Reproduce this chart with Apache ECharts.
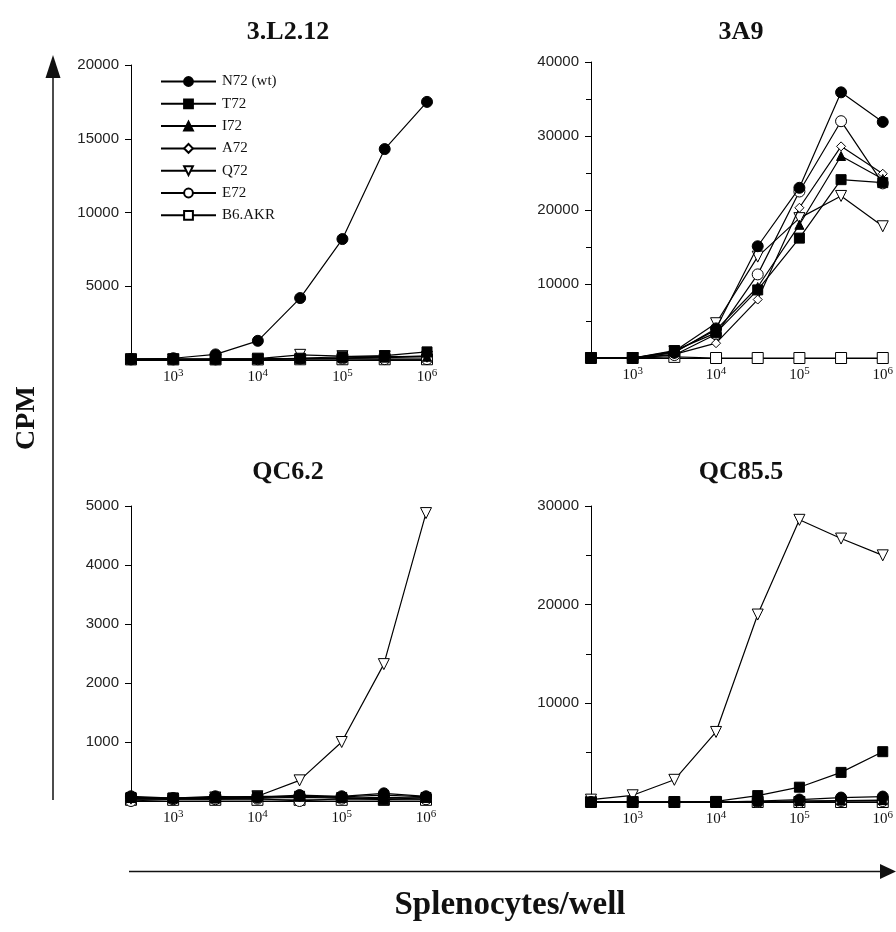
<!DOCTYPE html>
<html>
<head>
<meta charset="utf-8">
<script src="https://cdn.jsdelivr.net/npm/echarts@6/dist/echarts.min.js"></script>
<style>html,body{margin:0;padding:0;background:#fff;}#c{width:896px;height:932px;}</style>
</head>
<body>
<div id="c"></div>
<script>
// Splenocytes per well (x values, plotted on log10 scale)
const cellsPerWell = [316, 1000, 3162, 10000, 31623, 100000, 316228, 1000000];
const xTickExponents = [3, 4, 5, 6];
const seriesNames = ['N72 (wt)', 'T72', 'I72', 'A72', 'Q72', 'E72', 'B6.AKR'];
const panelTitles = ['3.L2.12', '3A9', 'QC6.2', 'QC85.5'];

// Panel 1: 3.L2.12 (CPM)
const p1_N72 = [60, 120, 380, 1300, 4200, 8200, 14300, 17500];
const p1_T72 = [60, 60, 60, 80, 120, 220, 300, 550];
const p1_I72 = [50, 50, 50, 60, 90, 120, 160, 220];
const p1_A72 = [50, 50, 50, 60, 110, 150, 200, 280];
const p1_Q72 = [50, 50, 60, 90, 350, 260, 250, 220];
const p1_E72 = [40, 40, 40, 50, 100, 100, 60, 60];
const p1_B6 = [40, 40, 40, 40, 50, 50, 50, 50];

// Panel 2: 3A9
const p2_N72 = [0, 0, 700, 4000, 15100, 23000, 35900, 31900];
const p2_T72 = [0, 0, 1000, 3400, 9200, 16200, 24100, 23700];
const p2_I72 = [0, 0, 800, 3800, 9600, 18000, 27300, 24200];
const p2_A72 = [0, 0, 500, 2000, 7900, 20300, 28600, 24900];
const p2_Q72 = [0, 0, 900, 4700, 13700, 18900, 21900, 17800];
const p2_E72 = [0, 0, 400, 3200, 11300, 22500, 32000, 23600];
const p2_B6 = [0, 0, 150, 0, 0, 0, 0, 0];

// Panel 3: QC6.2
const p3_N72 = [80, 50, 80, 60, 100, 80, 130, 80];
const p3_T72 = [60, 50, 50, 80, 80, 60, 20, 60];
const p3_I72 = [50, 50, 60, 60, 80, 70, 100, 70];
const p3_A72 = [30, 40, 40, 50, 60, 50, 60, 50];
const p3_Q72 = [40, 40, 60, 80, 350, 1000, 2320, 4880];
const p3_E72 = [0, 30, 30, 40, 0, 40, 40, 30];
const p3_B6 = [20, 20, 20, 20, 20, 20, 20, 20];

// Panel 4: QC85.5
const p4_N72 = [0, 0, 0, 0, 100, 250, 450, 550];
const p4_T72 = [0, 0, 0, 60, 650, 1500, 3000, 5100];
const p4_I72 = [0, 0, 0, 0, 50, 100, 150, 200];
const p4_A72 = [0, 0, 0, 0, 50, 100, 100, 150];
const p4_Q72 = [240, 680, 2250, 7100, 19000, 28600, 26700, 25000];
const p4_E72 = [0, 0, 0, 0, 0, 0, 100, 100];
const p4_B6 = [0, 0, 0, 0, 0, 0, 0, 0];

const panelData = [
  [p1_N72, p1_T72, p1_I72, p1_A72, p1_Q72, p1_E72, p1_B6],
  [p2_N72, p2_T72, p2_I72, p2_A72, p2_Q72, p2_E72, p2_B6],
  [p3_N72, p3_T72, p3_I72, p3_A72, p3_Q72, p3_E72, p3_B6],
  [p4_N72, p4_T72, p4_I72, p4_A72, p4_Q72, p4_E72, p4_B6]
];
const yMax = [20000, 40000, 5000, 30000];
const yInterval = [5000, 10000, 1000, 10000];
const yMinor = [false, true, false, true];

const grids = [
  {left: 131, top: 65, width: 296, height: 295},
  {left: 591, top: 62, width: 294, height: 296},
  {left: 131, top: 506, width: 295, height: 295},
  {left: 591, top: 506, width: 294, height: 296}
];
const titleCenters = [[283, 14], [736, 14], [283, 454], [736, 454]];

const markerStyles = [
  {symbol: 'circle', size: 11, fill: '#000', rot: 0},
  {symbol: 'rect', size: 10, fill: '#000', rot: 0},
  {symbol: 'triangle', size: 9, fill: '#000', rot: 0},
  {symbol: 'diamond', size: 9, fill: '#fff', rot: 0},
  {symbol: 'triangle', size: 11, fill: '#fff', rot: 180},
  {symbol: 'circle', size: 11, fill: '#fff', rot: 0},
  {symbol: 'rect', size: 11, fill: '#fff', rot: 0}
];

const serif = '"Liberation Serif", "Times New Roman", serif';
const sans = '"Liberation Sans", Arial, sans-serif';

const xAxes = [], yAxes = [], series = [], titles = [];
for (let p = 0; p < 4; p++) {
  xAxes.push({
    type: 'value', gridIndex: p, min: 2.5, max: 6, interval: 0.5,
    axisLine: {show: true, lineStyle: {color: '#000', width: 1}},
    axisTick: {show: true, customValues: xTickExponents, length: 4, lineStyle: {color: '#000'}},
    splitLine: {show: false},
    axisLabel: {
      customValues: xTickExponents, margin: 8, color: '#111',
      formatter: v => '{b|10}{s|' + Math.round(v) + '}',
      rich: {
        b: {fontFamily: serif, fontSize: 15, color: '#111'},
        s: {fontFamily: serif, fontSize: 11, color: '#111', padding: [0, 0, 7, 0]}
      }
    }
  });
  yAxes.push({
    type: 'value', gridIndex: p, min: 0, max: yMax[p], interval: yInterval[p],
    axisLine: {show: true, lineStyle: {color: '#000', width: 1}},
    axisTick: {show: true, length: 6, lineStyle: {color: '#000'}},
    minorTick: {show: yMinor[p], splitNumber: 2, length: 5, lineStyle: {color: '#000'}},
    splitLine: {show: false},
    axisLabel: {showMinLabel: false, margin: 12, fontFamily: sans, fontSize: 15, color: '#222',
      formatter: v => String(v)}
  });
  const order = [6, 5, 4, 3, 2, 1, 0];
  order.forEach(i => {
    const m = markerStyles[i];
    series.push({
      type: 'line', name: seriesNames[i], xAxisIndex: p, yAxisIndex: p,
      data: cellsPerWell.map((c, k) => [Math.log10(c), panelData[p][i][k]]),
      symbol: m.symbol, symbolSize: m.size, symbolRotate: m.rot, showAllSymbol: true,
      clip: false, animation: false, z: 2 + (6 - i) * 0.01,
      lineStyle: {color: '#000', width: 1.2},
      itemStyle: {color: m.fill, borderColor: '#000', borderWidth: 1}
    });
  });
  titles.push({
    text: panelTitles[p], left: titleCenters[p][0], top: titleCenters[p][1], textAlign: 'center',
    textStyle: {fontFamily: serif, fontWeight: 'bold', fontSize: 26, color: '#111'}
  });
}

const chart = echarts.init(document.getElementById('c'), null, {renderer: 'canvas'});
chart.setOption({
  backgroundColor: '#fff',
  animation: false,
  title: titles,
  grid: grids,
  xAxis: xAxes,
  yAxis: yAxes,
  legend: {
    data: seriesNames, orient: 'vertical', left: 155, top: 69,
    itemWidth: 55, itemHeight: 11, itemGap: 7.3,
    textStyle: {fontFamily: serif, fontSize: 15, color: '#111', lineHeight: 11, padding: [0, 0, 0, 1]},
    selectedMode: false
  },
  series: series,
  graphic: [
    {type: 'line', shape: {x1: 53, y1: 800, x2: 53, y2: 76}, style: {stroke: '#111', lineWidth: 1.5}},
    {type: 'polygon', shape: {points: [[53, 55], [45.5, 78], [60.5, 78]]}, style: {fill: '#111'}},
    {type: 'line', shape: {x1: 129, y1: 871.5, x2: 882, y2: 871.5}, style: {stroke: '#111', lineWidth: 1.5}},
    {type: 'polygon', shape: {points: [[896, 871.5], [880, 864], [880, 879]]}, style: {fill: '#111'}},
    {type: 'text', x: 27, y: 418, rotation: Math.PI / 2,
      style: {text: 'CPM', textAlign: 'center', textVerticalAlign: 'middle', fontFamily: serif, fontWeight: 'bold', fontSize: 28, fill: '#111'}},
    {type: 'text', x: 510, y: 905,
      style: {text: 'Splenocytes/well', textAlign: 'center', textVerticalAlign: 'middle', fontFamily: serif, fontWeight: 'bold', fontSize: 33, fill: '#111'}}
  ]
});
</script>
</body>
</html>
